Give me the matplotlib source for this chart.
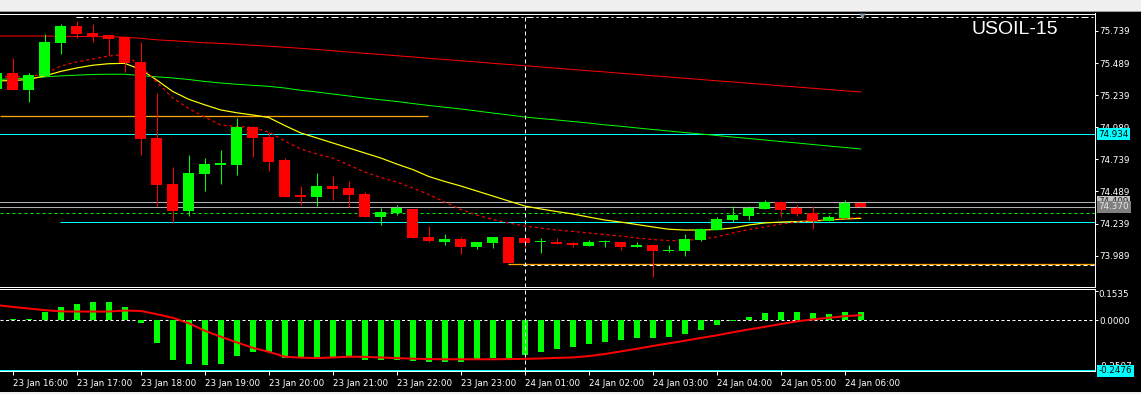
import matplotlib
matplotlib.use('Agg')
import matplotlib.pyplot as plt
from matplotlib import transforms
from matplotlib.patches import Rectangle

plt.rcParams['lines.scale_dashes'] = False
plt.rcParams['font.family'] = ['DejaVu Sans']

W, H, DPI = 1141, 394, 100
PX = 72.0 / DPI

# ---------------- data ----------------
bar_index = list(range(-1, 54))

opens = [75.287, 75.412, 75.282, 75.391, 75.648, 75.778, 75.723, 75.708, 75.690, 75.498,
         74.906, 74.547, 74.340, 74.628, 74.699, 74.698, 74.991, 74.913, 74.734, 74.462,
         74.449, 74.532, 74.516, 74.470, 74.290, 74.322, 74.353, 74.132, 74.096, 74.119,
         74.057, 74.088, 74.135, 74.127, 74.092, 74.096, 74.088, 74.065, 74.094, 74.096,
         74.057, 74.072, 74.029, 74.028, 74.111, 74.189, 74.267, 74.298, 74.353, 74.407,
         74.361, 74.322, 74.257, 74.283, 74.399]
closes = [75.412, 75.282, 75.396, 75.653, 75.778, 75.718, 75.698, 75.677, 75.490, 74.900,
          74.540, 74.340, 74.633, 74.703, 74.703, 74.991, 74.908, 74.721, 74.446, 74.446,
          74.532, 74.511, 74.464, 74.290, 74.329, 74.361, 74.127, 74.104, 74.119, 74.057,
          74.096, 74.135, 73.932, 74.088, 74.096, 74.080, 74.072, 74.096, 74.098, 74.057,
          74.072, 74.028, 74.033, 74.119, 74.197, 74.275, 74.306, 74.361, 74.407, 74.345,
          74.314, 74.257, 74.290, 74.399, 74.370]
highs = [75.420, 75.526, 75.412, 75.716, 75.794, 75.817, 75.794, 75.708, 75.690, 75.653,
         75.256, 74.680, 74.773, 74.750, 74.812, 75.061, 74.999, 74.955, 74.750, 74.532,
         74.633, 74.610, 74.571, 74.485, 74.361, 74.384, 74.353, 74.220, 74.158, 74.135,
         74.096, 74.135, 74.135, 74.127, 74.127, 74.127, 74.096, 74.111, 74.111, 74.096,
         74.096, 74.072, 74.072, 74.158, 74.205, 74.290, 74.376, 74.376, 74.423, 74.415,
         74.384, 74.376, 74.306, 74.423, 74.399]
lows = [75.280, 75.282, 75.188, 75.391, 75.562, 75.687, 75.656, 75.552, 75.422, 74.773,
        74.376, 74.241, 74.300, 74.495, 74.550, 74.620, 74.760, 74.651, 74.446, 74.384,
        74.376, 74.423, 74.368, 74.290, 74.228, 74.308, 74.127, 74.096, 74.072, 74.002,
        74.041, 74.049, 73.932, 74.057, 74.010, 74.080, 74.057, 74.065, 74.057, 74.033,
        74.057, 73.823, 74.018, 73.987, 74.104, 74.189, 74.251, 74.267, 74.353, 74.290,
        74.298, 74.197, 74.257, 74.283, 74.370]

ma_red = [75.700, 75.700, 75.700, 75.699, 75.698, 75.696, 75.695, 75.694, 75.691, 75.682,
          75.670, 75.663, 75.655, 75.647, 75.642, 75.635, 75.628, 75.620, 75.612, 75.604,
          75.595, 75.585, 75.575, 75.565, 75.556, 75.546, 75.537, 75.526, 75.517, 75.507,
          75.498, 75.487, 75.478, 75.468, 75.459, 75.449, 75.439, 75.429, 75.420, 75.410,
          75.400, 75.390, 75.381, 75.371, 75.361, 75.351, 75.342, 75.332, 75.322, 75.312,
          75.303, 75.293, 75.283, 75.273, 75.264]
ma_green = [75.361, 75.367, 75.373, 75.381, 75.389, 75.395, 75.400, 75.402, 75.402, 75.392,
            75.382, 75.373, 75.361, 75.346, 75.334, 75.324, 75.316, 75.308, 75.295, 75.277,
            75.264, 75.248, 75.233, 75.217, 75.203, 75.190, 75.174, 75.159, 75.145, 75.132,
            75.116, 75.100, 75.085, 75.069, 75.057, 75.046, 75.034, 75.022, 75.008, 74.997,
            74.984, 74.972, 74.960, 74.948, 74.937, 74.925, 74.913, 74.902, 74.890, 74.878,
            74.867, 74.855, 74.843, 74.832, 74.820]
ma_yellow = [75.350, 75.353, 75.361, 75.389, 75.424, 75.451, 75.472, 75.484, 75.487, 75.439,
             75.357, 75.268, 75.207, 75.164, 75.124, 75.102, 75.085, 75.065, 75.003, 74.945,
             74.906, 74.867, 74.828, 74.789, 74.750, 74.703, 74.660, 74.606, 74.567, 74.532,
             74.493, 74.454, 74.415, 74.376, 74.353, 74.333, 74.314, 74.290, 74.267, 74.251,
             74.232, 74.213, 74.195, 74.189, 74.189, 74.193, 74.205, 74.228, 74.244, 74.251,
             74.255, 74.259, 74.267, 74.275, 74.280]
ma_red_dash = [75.383, 75.383, 75.383, 75.404, 75.466, 75.498, 75.521, 75.544, 75.556, 75.466,
               75.342, 75.217, 75.135, 75.069, 75.007, 74.994, 74.987, 74.952, 74.882, 74.820,
               74.781, 74.750, 74.695, 74.641, 74.598, 74.563, 74.516, 74.466, 74.407, 74.349,
               74.306, 74.271, 74.244, 74.220, 74.205, 74.189, 74.178, 74.166, 74.154, 74.142,
               74.127, 74.115, 74.107, 74.107, 74.119, 74.135, 74.166, 74.193, 74.213, 74.236,
               74.251, 74.263, 74.271, 74.279, 74.288]

macd_hist = [0.004, 0.006, 0.005, 0.040, 0.066, 0.081, 0.091, 0.091, 0.066, -0.012,
             -0.112, -0.197, -0.217, -0.222, -0.217, -0.177, -0.157, -0.157, -0.187, -0.189,
             -0.186, -0.186, -0.183, -0.196, -0.196, -0.199, -0.202, -0.206, -0.206, -0.206,
             -0.196, -0.186, -0.191, -0.173, -0.156, -0.143, -0.135, -0.120, -0.110, -0.100,
             -0.090, -0.090, -0.085, -0.070, -0.050, -0.025, -0.003, 0.015, 0.035, 0.040,
             0.040, 0.035, 0.030, 0.040, 0.040]
macd_signal = [0.075, 0.066, 0.058, 0.050, 0.044, 0.043, 0.043, 0.043, 0.048, 0.046,
               0.030, 0.012, -0.015, -0.052, -0.082, -0.110, -0.137, -0.157, -0.181, -0.186,
               -0.188, -0.185, -0.181, -0.182, -0.185, -0.188, -0.191, -0.193, -0.194, -0.194,
               -0.194, -0.194, -0.193, -0.192, -0.190, -0.187, -0.185, -0.178, -0.168, -0.155,
               -0.142, -0.128, -0.115, -0.102, -0.088, -0.075, -0.060, -0.046, -0.033, -0.019,
               -0.006, 0.004, 0.012, 0.020, 0.025]

hour_ticks = [0, 4, 8, 12, 16, 20, 24, 28, 32, 36, 40, 44, 48, 52]
hour_labels = ['23 Jan 16:00', '23 Jan 17:00', '23 Jan 18:00', '23 Jan 19:00',
               '23 Jan 20:00', '23 Jan 21:00', '23 Jan 22:00', '23 Jan 23:00',
               '24 Jan 01:00', '24 Jan 02:00', '24 Jan 03:00', '24 Jan 04:00',
               '24 Jan 05:00', '24 Jan 06:00']
price_ticks = [75.739, 75.489, 75.239, 74.989, 74.739, 74.489, 74.239, 73.989]
price_labels = ['75.739', '75.489', '75.239', '74.989', '74.739', '74.489', '74.239', '73.989']

level_top_dashdot = 75.844
level_orange_top = 75.075
level_cyan = 74.934
level_ask = 74.409
level_bid = 74.370
level_green_dash = 74.319
level_cyan_low = 74.249
level_orange_low = 73.922
macd_level = -0.2476
separator_bar = 32
title = 'USOIL-15'

# ---------------- figure ----------------
fig = plt.figure(figsize=(W / DPI, H / DPI), dpi=DPI, facecolor='black')


def frac(l, t, r, b):
    return [l / W, 1 - b / H, (r - l) / W, (b - t) / H]


ax = fig.add_axes(frac(0, 13.5, 1094.5, 287.3))
ax2 = fig.add_axes(frac(0, 289.3, 1094.5, 370.7), sharex=ax)

XL = (-0.794, 67.61)
for a in (ax, ax2):
    a.set_facecolor('black')
    a.set_xlim(*XL)
    for s in ('left',):
        a.spines[s].set_visible(False)
    for s in ('top', 'right', 'bottom'):
        a.spines[s].set_color('white')
        a.spines[s].set_linewidth(PX)

ax.set_ylim(73.743, 75.875)
ax2.set_ylim(-0.2507, 0.1535)

# candles
BULL, BEAR = '#00ff00', '#ff0000'
for i, o, h, l, c in zip(bar_index, opens, highs, lows, closes):
    col = BULL if c >= o else BEAR
    ax.vlines(i, l, h, color=col, lw=PX, zorder=4)
    ax.bar(i, max(abs(c - o), 0.008), bottom=min(o, c), width=0.69,
           color=col, linewidth=0, zorder=5)

# moving averages
ax.plot(bar_index, ma_red, color='#ff0000', lw=PX, zorder=3)
ax.plot(bar_index, ma_green, color='#00ff00', lw=PX, zorder=3)
ax.plot(bar_index, ma_yellow, color='#ffff00', lw=PX * 1.2, zorder=3)
ax.plot(bar_index, ma_red_dash, color='#ff0000', lw=PX * 1.2,
        linestyle=(0, (3 * PX, 3 * PX)), zorder=3)

# horizontal levels
ax.hlines(level_top_dashdot, 3.96, XL[1], color='white', lw=PX,
          linestyle=(0, (7 * PX, 3 * PX, 2 * PX, 3 * PX)), zorder=2)
ax.hlines(level_orange_top, XL[0], 25.95, color='#ffa500', lw=PX * 1.3, zorder=2)
ax.axhline(level_cyan, color='#00ffff', lw=PX, zorder=2)
ax.axhline(level_ask, color='#b0b0b0', lw=PX, zorder=2)
ax.axhline(level_bid, color='#b0b0b0', lw=PX, zorder=2)
ax.axhline(level_green_dash, color='#00ee00', lw=PX, linestyle=(0, (3 * PX, 3 * PX)), zorder=2)
ax.hlines(level_cyan_low, 2.96, XL[1], color='#00ffff', lw=PX, zorder=2)
ax.hlines(level_orange_low, 30.97, XL[1], color='#ffa500', lw=PX * 1.3, zorder=2)
ax.hlines(level_orange_low - 0.008, 31.9, XL[1], color='white', lw=PX,
          linestyle=(0, (4 * PX, 3 * PX)), zorder=2)

# separator
for a in (ax, ax2):
    a.axvline(separator_bar, color='white', lw=PX, linestyle=(0, (4 * PX, 3 * PX)), zorder=6)

# shift marker
ax.plot([53.05], [75.852], marker='v', ms=4.5, color='#7f8fa0', mec='none',
        clip_on=False, zorder=8)

# MACD
ax2.bar(bar_index, macd_hist, width=0.36, color='#00ff00', linewidth=0, zorder=3)
ax2.plot(bar_index, macd_signal, color='#ff0000', lw=2 * PX, zorder=4)
ax2.axhline(0, color='white', lw=PX, linestyle=(0, (3 * PX, 2.5 * PX)), zorder=2)
ax2.axhline(macd_level, color='#00ffff', lw=PX, zorder=2)

# y axes
FS = 6.3
ax.yaxis.tick_right()
ax.set_yticks(price_ticks)
ax.set_yticklabels(price_labels)
ax.tick_params(axis='y', colors='white', direction='out', length=3 * PX, width=PX,
               pad=1.5 * PX, labelsize=FS)
ax.tick_params(axis='x', bottom=False, labelbottom=False)

ax2.yaxis.tick_right()
ax2.set_yticks([0.145, 0.0])
ax2.set_yticklabels(['', '0.0000'])
ax2.tick_params(axis='y', colors='white', direction='out', length=3 * PX, width=PX,
                pad=1.5 * PX, labelsize=FS)

ax2.set_xticks(hour_ticks)
ax2.set_xticklabels([''] * len(hour_ticks))
ax2.tick_params(axis='x', colors='white', direction='out', length=3.5 * PX, width=PX)

# time labels
trx = transforms.blended_transform_factory(ax2.transData, ax2.transAxes) + \
    transforms.ScaledTranslation(0.5 / DPI, -15.0 / DPI, fig.dpi_scale_trans)
for t, lab in zip(hour_ticks, hour_labels):
    ax2.text(t, 0, lab, transform=trx, ha='left', va='baseline', color='white',
             fontsize=FS, clip_on=False)


def axis_label(a, y, text, fc, tc, dy=0.0, z=10):
    tr = transforms.blended_transform_factory(a.transAxes, a.transData) + \
        transforms.ScaledTranslation(4.0 / DPI, dy / DPI, fig.dpi_scale_trans)
    a.text(1.0, y, text, transform=tr, ha='left', va='center', color=tc, fontsize=FS,
           clip_on=False, zorder=z,
           bbox=dict(boxstyle='square,pad=0.18', fc=fc, ec='none') if fc else None)


axis_label(ax, level_cyan, '74.934', '#00ffff', 'black')
axis_label(ax, level_ask, '74.409', '#c0c0c0', '#202020', z=10)
axis_label(ax, level_bid, '74.370', '#808080', '#e8e8e8', z=11)

tr_top = transforms.blended_transform_factory(ax2.transAxes, ax2.transAxes)
ax2.text(1.0, 1.0, '0.1535', transform=tr_top + transforms.ScaledTranslation(4.0 / DPI, -5.0 / DPI, fig.dpi_scale_trans),
         ha='left', va='center', color='white', fontsize=FS, clip_on=False)
ax2.text(1.0, 0.0, '-0.2507', transform=tr_top + transforms.ScaledTranslation(4.0 / DPI, 4.5 / DPI, fig.dpi_scale_trans),
         ha='left', va='center', color='white', fontsize=FS, clip_on=False)
axis_label(ax2, macd_level, '-0.2476', '#00ffff', 'black', dy=-0.5, z=12)

# title
fig.text(971.5 / W, 1 - 34.3 / H, title, color='white', fontsize=14,
         family='Liberation Sans', ha='left', va='baseline')

# window frame bands
fig.patches.append(Rectangle((0, 1 - 10.5 / H), 1, 10.5 / H, transform=fig.transFigure,
                             facecolor='#f0f0f0', edgecolor='none', zorder=0))
fig.patches.append(Rectangle((0, 1 - 11.5 / H), 1, 1.0 / H, transform=fig.transFigure,
                             facecolor='#a0a0a0', edgecolor='none', zorder=0))
fig.patches.append(Rectangle((0, 0), 1, 2.5 / H, transform=fig.transFigure,
                             facecolor='#f0f0f0', edgecolor='none', zorder=0))

fig.savefig('out.png', dpi=DPI, facecolor='black')
